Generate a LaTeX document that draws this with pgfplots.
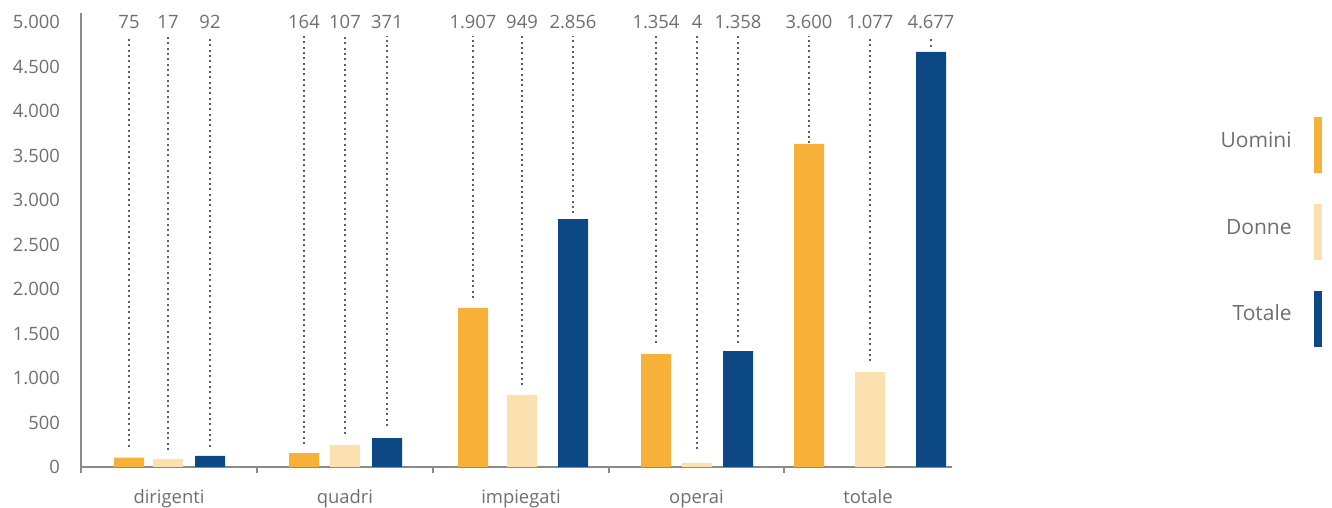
\documentclass[border=0pt]{standalone}
\usepackage{pgfplots}
\pgfplotsset{compat=1.18}
\usepackage{fontspec}
\setmainfont{Open Sans}
\definecolor{cU}{HTML}{F7B038}
\definecolor{cD}{HTML}{FBE0B0}
\definecolor{cT}{HTML}{0B4884}
\definecolor{txt}{HTML}{6F6F6F}
\definecolor{axg}{HTML}{8A8A8A}
\definecolor{dotg}{HTML}{5F5F5F}
\begin{document}
\begin{tikzpicture}[font=\fontsize{9.2}{11}\selectfont, x=1pt, y=1pt]
\useasboundingbox (0,0) rectangle (666,254);
\begin{axis}[
  at={(40.5pt,20.5pt)}, anchor=south west,
  scale only axis, width=435.5pt, height=227.15pt,
  xmin=81, xmax=952, ymin=0, ymax=5108,
  axis lines=left,
  axis line style={axg, line width=1pt, -},
  xtick={81,257,433,609,784},
  xticklabels={},
  tick align=outside,
  major tick length=3pt,
  xtick style={axg, line width=1pt},
  extra x ticks={169,345,521,696.5,868},
  extra x tick labels={dirigenti,quadri,impiegati,operai,totale},
  extra x tick style={major tick length=0pt, xticklabel style={anchor=base, yshift=-18pt}},
  ytick={0,500,...,5000},
  ytick style={draw=none},
  yticklabel style={anchor=east, xshift=-4pt},
  tick label style={text=txt, font=\fontsize{9.2}{11}\selectfont},
  /pgf/number format/.cd, 1000 sep={.}, assume math mode=true,
  /pgfplots/.cd,
  clip=false,
]
% bars
\addplot[ybar, bar width=15pt, bar shift=0pt, fill=cU, draw=none]
  coordinates {(129,105) (304,157) (473,1788) (656,1270) (809,3632)};
\addplot[ybar, bar width=15pt, bar shift=0pt, fill=cD, draw=none]
  coordinates {(168,90) (345,247) (522,810) (697,45) (870,1068)};
\addplot[ybar, bar width=15pt, bar shift=0pt, fill=cT, draw=none]
  coordinates {(210,124) (387,326) (573,2788) (738,1304) (931,4666)};
% dotted leader lines (from their lower end up to 4846)
\addplot[draw=none, mark=none, error bars/.cd, y dir=plus, y explicit,
  error mark=none,
  error bar style={dotg, line width=1.05pt, dash pattern=on 1pt off 1.67pt}]
  coordinates {
  (129,228) +- (0,4618) (168,191) +- (0,4655) (210,228) +- (0,4618)
  (304,259) +- (0,4587) (345,371) +- (0,4475) (387,461) +- (0,4385)
  (473,1900) +- (0,2946) (522,918) +- (0,3928) (573,2852) +- (0,1994)
  (656,1398) +- (0,3448) (697,199) +- (0,4647) (738,1398) +- (0,3448)
  (809,3640) +- (0,1206) (870,1188) +- (0,3658) (931,4726) +- (0,120)
  };
% value labels
\addplot[draw=none, mark=none, nodes near coords, point meta=explicit symbolic,
  every node near coord/.append style={anchor=center, text=txt, inner sep=0pt,
  font=\fontsize{9.2}{11}\selectfont}]
  coordinates {
  (129,5000) [75] (168,5000) [17] (210,5000) [92]
  (304,5000) [164] (345,5000) [107] (387,5000) [371]
  (473,5000) [1.907] (522,5000) [949] (573,5000) [2.856]
  (656,5000) [1.354] (697,5000) [4] (738,5000) [1.358]
  (809,5000) [3.600] (870,5000) [1.077] (931,5000) [4.677]
  };
\end{axis}
% legend
\node[anchor=east, text=txt, inner sep=0pt, font=\fontsize{10.5}{12}\selectfont] at (646,184) {Uomini};
\fill[cU] (657,167.65) rectangle (661,195.5);
\node[anchor=east, text=txt, inner sep=0pt, font=\fontsize{10.5}{12}\selectfont] at (646,140.5) {Donne};
\fill[cD] (657,124) rectangle (661,152);
\node[anchor=east, text=txt, inner sep=0pt, font=\fontsize{10.5}{12}\selectfont] at (646,97.5) {Totale};
\fill[cT] (657,80.65) rectangle (661,108.5);
\end{tikzpicture}
\end{document}
